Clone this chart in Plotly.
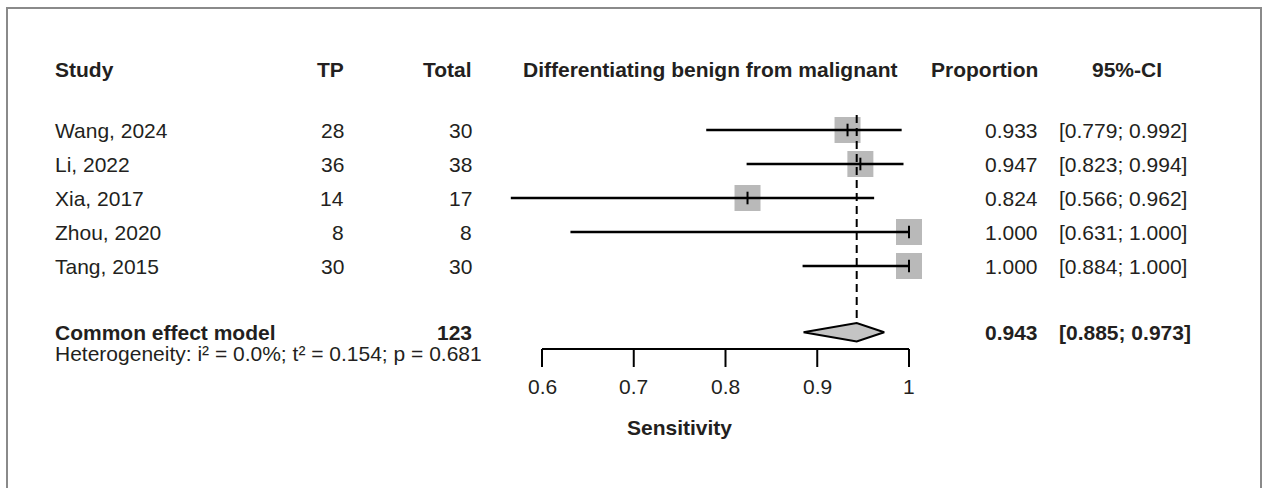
import plotly.graph_objects as go

# Study-level data
studies = ["Wang, 2024", "Li, 2022", "Xia, 2017", "Zhou, 2020", "Tang, 2015"]
tp = [28, 36, 14, 8, 30]
total = [30, 38, 17, 8, 30]
prop = [0.933, 0.947, 0.824, 1.000, 1.000]
ci_low = [0.779, 0.823, 0.566, 0.631, 0.884]
ci_high = [0.992, 0.994, 0.962, 1.000, 1.000]

# Pooled estimate
pooled_label = "Common effect model"
pooled_total = 123
pooled = 0.943
pooled_low = 0.885
pooled_high = 0.973
heterogeneity = "Heterogeneity: i\u00b2 = 0.0%; t\u00b2 = 0.154; p = 0.681"

tick_vals = [0.6, 0.7, 0.8, 0.9, 1]
tick_text = ["0.6", "0.7", "0.8", "0.9", "1"]

W, H = 1264, 488
FONT = "Liberation Sans, Arial, sans-serif"
FS = 21
TXT = "#231f20"

rows = list(range(1, len(studies) + 1))
pooled_row = 6.95
header_row = -0.77


def px(p):
    return p / W


fig = go.Figure()

# squares and CI lines
fig.add_trace(go.Scatter(
    x=prop, y=rows, mode="markers",
    marker=dict(symbol="square", size=26, color="#b9b9b9", line=dict(width=0)),
    hoverinfo="skip"
))
fig.add_trace(go.Scatter(
    x=prop, y=rows, mode="markers",
    marker=dict(symbol="line-ns", size=9, line=dict(width=2, color="black")),
    error_x=dict(type="data", symmetric=False,
                 array=[h - p for h, p in zip(ci_high, prop)],
                 arrayminus=[p - l for p, l in zip(prop, ci_low)],
                 width=0, thickness=2.5, color="black"),
    hoverinfo="skip"
))

# dashed reference line at pooled estimate
fig.add_trace(go.Scatter(
    x=[pooled, pooled], y=[0.56, pooled_row - 0.27], mode="lines",
    line=dict(color="black", width=2, dash="8px,5px"), hoverinfo="skip"
))

# diamond
fig.add_trace(go.Scatter(
    x=[pooled_low, pooled, pooled_high, pooled, pooled_low],
    y=[pooled_row, pooled_row - 0.27, pooled_row, pooled_row + 0.27, pooled_row],
    mode="lines", fill="toself", fillcolor="#c4c4c4",
    line=dict(color="black", width=2), hoverinfo="skip"
))

# bottom axis
axis_y = 7.44
tick_bottom = 7.97
fig.add_trace(go.Scatter(
    x=[tick_vals[0], tick_vals[-1]], y=[axis_y, axis_y], mode="lines",
    line=dict(color="black", width=2), hoverinfo="skip"
))
for t in tick_vals:
    fig.add_trace(go.Scatter(
        x=[t, t], y=[axis_y, tick_bottom], mode="lines",
        line=dict(color="black", width=2), hoverinfo="skip"
    ))

ann = []


def text(x, y, s, anchor="left", bold=False, xref="paper"):
    ann.append(dict(
        x=x, y=y, xref=xref, yref="y", text=f"<b>{s}</b>" if bold else s,
        showarrow=False, xanchor=anchor, yanchor="middle",
        font=dict(family=FONT, size=FS, color=TXT)
    ))


# headers
text(px(53), header_row, "Study", bold=True)
text(px(346), header_row, "TP", "right", bold=True)
text(px(474), header_row, "Total", "right", bold=True)
text(px(710), header_row, "Differentiating benign from malignant", "center", bold=True)
text(px(1040), header_row, "Proportion", "right", bold=True)
text(px(1127), header_row, "95%-CI", "center", bold=True)

for r, s, a, n, p, lo, hi in zip(rows, studies, tp, total, prop, ci_low, ci_high):
    text(px(53), r, s)
    text(px(346), r, str(a), "right")
    text(px(474), r, str(n), "right")
    text(px(1040), r, f"{p:.3f}", "right")
    text(px(1057), r, f"[{lo:.3f}; {hi:.3f}]")

text(px(53), pooled_row, pooled_label, bold=True)
text(px(474), pooled_row, str(pooled_total), "right", bold=True)
text(px(1040), pooled_row, f"{pooled:.3f}", "right", bold=True)
text(px(1057), pooled_row, f"[{pooled_low:.3f}; {pooled_high:.3f}]", bold=True)
text(px(53), 7.58, heterogeneity)

for t, s in zip(tick_vals, tick_text):
    text(t, 8.53, s, "center", xref="x")
text(0.75, 9.74, "Sensitivity", "center", bold=True, xref="x")

# x scale: 0.6 -> 542px, 1.0 -> 909px
scale = (909 - 542) / 0.4
x0 = 0.6 - 542 / scale
x1 = x0 + W / scale
# y scale: row 1 -> 130px, 34px per row
y_top = 1 - 130 / 34
y_bot = y_top + H / 34

fig.update_layout(
    width=W, height=H,
    margin=dict(l=0, r=0, t=0, b=0),
    paper_bgcolor="white", plot_bgcolor="white",
    showlegend=False,
    xaxis=dict(range=[x0, x1], visible=False, fixedrange=True),
    yaxis=dict(range=[y_bot, y_top], visible=False, fixedrange=True),
    annotations=ann,
    shapes=[dict(type="rect", xref="paper", yref="paper",
                 x0=px(7), x1=px(1261), y0=-0.05, y1=1 - 8 / H,
                 line=dict(color="#8a8a8a", width=2))]
)

# drop the default page margin so the figure fills the window exactly
fig.write_html("out.html", config={"displayModeBar": False},
               post_script="document.body.style.margin='0';")
